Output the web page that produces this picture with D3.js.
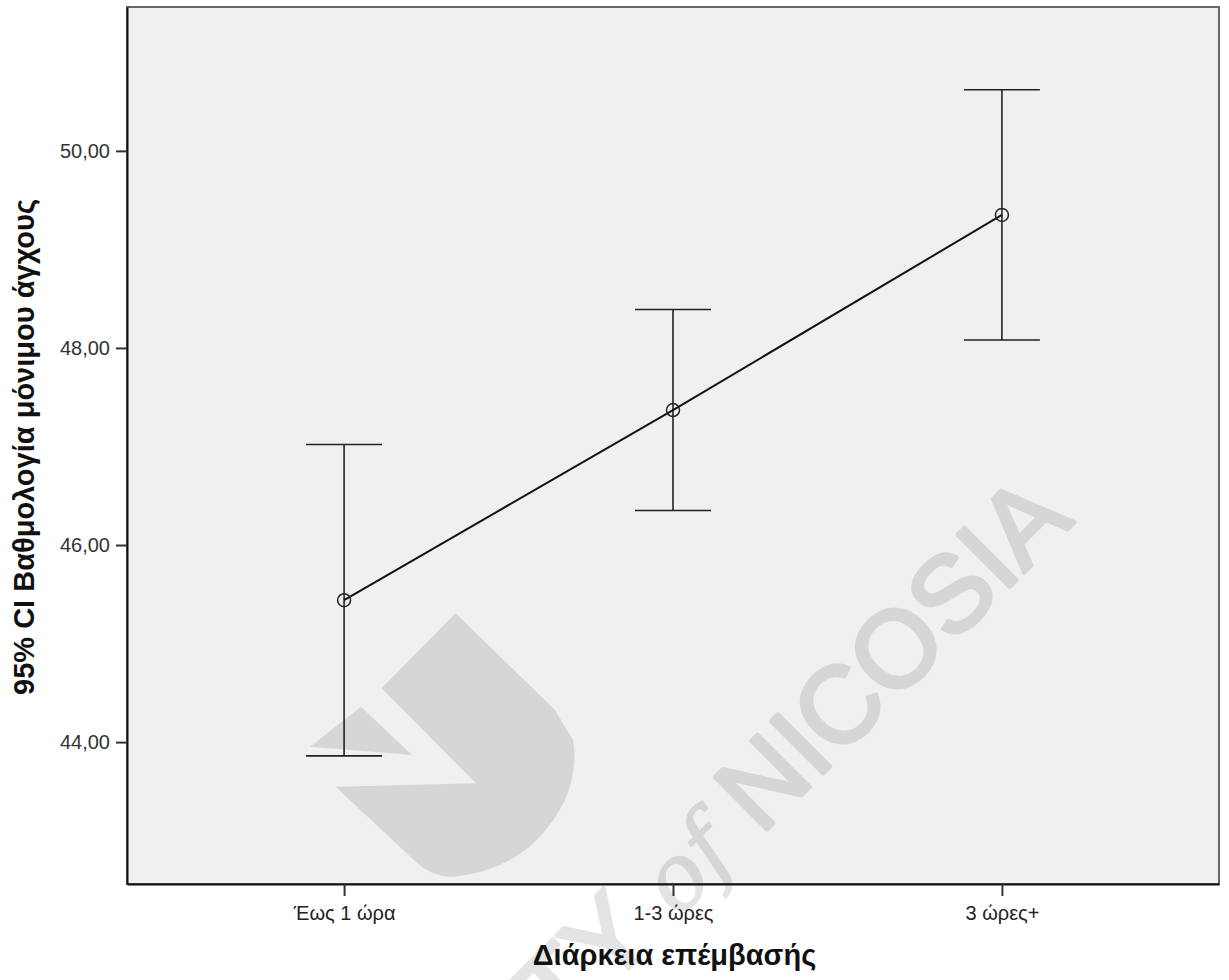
<!DOCTYPE html>
<html>
<head>
<meta charset="utf-8">
<script src="https://cdn.jsdelivr.net/npm/d3@7"></script>
<style>
  html, body { margin: 0; padding: 0; background: #ffffff; }
  svg { display: block; }
</style>
</head>
<body>
<svg id="chart" width="1229" height="980"></svg>
<script>
// ---- Data ----
const categories = ["Έως 1 ώρα", "1-3 ώρες", "3 ώρες+"];
const means = [45.44, 47.37, 49.35];
const lowerCI = [43.86, 46.35, 48.08];
const upperCI = [47.02, 48.39, 50.62];
const yTicks = [44, 46, 48, 50];
const yTickLabels = ["44,00", "46,00", "48,00", "50,00"];
const xTitle = "Διάρκεια επέμβασής";
const yTitle = "95% CI Βαθμολογία μόνιμου άγχους";

const rows = categories.map((c, i) => ({ cat: c, mean: means[i], lo: lowerCI[i], hi: upperCI[i] }));

// ---- Layout ----
const svg = d3.select("#chart");
const plot = { left: 127, right: 1219, top: 7, bottom: 884 };
const font = "Liberation Sans, Arial, sans-serif";

const x = d3.scalePoint().domain(categories).range([plot.left, plot.right]).padding(0.66);
const y = d3.scaleLinear().domain([42.56, 51.46]).range([plot.bottom, plot.top]);

// background
svg.append("rect")
  .attr("x", plot.left).attr("y", plot.top)
  .attr("width", plot.right - plot.left).attr("height", plot.bottom - plot.top)
  .attr("fill", "#f0f0f0");

// ---- Watermark ----
const wm = svg.append("g").attr("opacity", 0.1).attr("fill", "#000");
wm.append("path").attr("d",
  "M455.6,613.3 L381.6,688.3 L476,783.3 L335.7,786.7 L417.3,863.3 " +
  "Q435,878 453,876.7 Q530,870 565,800 Q578,770 573,740 L555,710 Z");
wm.append("path").attr("d", "M361,706.7 L310,746.7 L412,755 Z");
const wt = wm.append("text")
  .attr("transform", "translate(1075,522) rotate(-45)")
  .attr("text-anchor", "end")
  .attr("font-family", font)
  .attr("stroke", "#000").attr("stroke-width", 4).attr("stroke-linejoin", "round")
  .attr("font-size", 108);
wt.append("tspan").text("UNIVERSITY ");
wt.append("tspan").attr("font-style", "italic").attr("stroke-width", 1.5)
  .attr("font-family", "DejaVu Serif, serif").attr("font-size", 90).text("of");
wt.append("tspan").text(" NICOSIA");

// ---- Frame ----
svg.append("rect")
  .attr("x", plot.left).attr("y", plot.top)
  .attr("width", plot.right - plot.left).attr("height", plot.bottom - plot.top)
  .attr("fill", "none").attr("stroke", "#666").attr("stroke-width", 2);

// ---- Axes ----
const yAxis = d3.axisLeft(y).tickValues(yTicks)
  .tickFormat((d, i) => yTickLabels[i]).tickSize(11).tickSizeOuter(0).tickPadding(6);
const gy = svg.append("g").attr("transform", `translate(${plot.left},0)`).call(yAxis);
gy.select(".domain").attr("stroke", "#111").attr("stroke-width", 2);
gy.selectAll(".tick line").attr("stroke", "#333").attr("stroke-width", 2);
gy.selectAll(".tick text").attr("fill", "#333")
  .attr("font-family", font).attr("font-size", 20);

const xAxis = d3.axisBottom(x).tickSize(12).tickSizeOuter(0).tickPadding(10);
const gx = svg.append("g").attr("transform", `translate(0,${plot.bottom})`).call(xAxis);
gx.select(".domain").attr("stroke", "#111").attr("stroke-width", 2);
gx.selectAll(".tick line").attr("stroke", "#333").attr("stroke-width", 2);
gx.selectAll(".tick text").attr("fill", "#222")
  .attr("font-family", font).attr("font-size", 20);

// ---- Error bars ----
const capHalf = 38;
const eb = svg.append("g").attr("stroke", "#222").attr("stroke-width", 1.6).attr("fill", "none");
rows.forEach(r => {
  const cx = x(r.cat);
  eb.append("line").attr("x1", cx).attr("x2", cx).attr("y1", y(r.hi)).attr("y2", y(r.lo));
  eb.append("line").attr("x1", cx - capHalf).attr("x2", cx + capHalf).attr("y1", y(r.hi)).attr("y2", y(r.hi));
  eb.append("line").attr("x1", cx - capHalf).attr("x2", cx + capHalf).attr("y1", y(r.lo)).attr("y2", y(r.lo));
});

// ---- Mean line ----
svg.append("path").datum(rows)
  .attr("d", d3.line().x(d => x(d.cat)).y(d => y(d.mean)))
  .attr("fill", "none").attr("stroke", "#111").attr("stroke-width", 2);

svg.append("g").selectAll("circle").data(rows).join("circle")
  .attr("cx", d => x(d.cat)).attr("cy", d => y(d.mean)).attr("r", 6.5)
  .attr("fill", "none").attr("stroke", "#222").attr("stroke-width", 1.5);

// ---- Titles ----
svg.append("text")
  .attr("x", 674.5).attr("y", 965)
  .attr("text-anchor", "middle")
  .attr("font-family", font)
  .attr("font-weight", "bold").attr("font-size", 29).attr("fill", "#111")
  .text(xTitle);

svg.append("text")
  .attr("transform", `translate(34,447) rotate(-90)`)
  .attr("text-anchor", "middle")
  .attr("font-family", font)
  .attr("font-weight", "bold").attr("font-size", 29).attr("fill", "#111")
  .text(yTitle);
</script>
</body>
</html>
